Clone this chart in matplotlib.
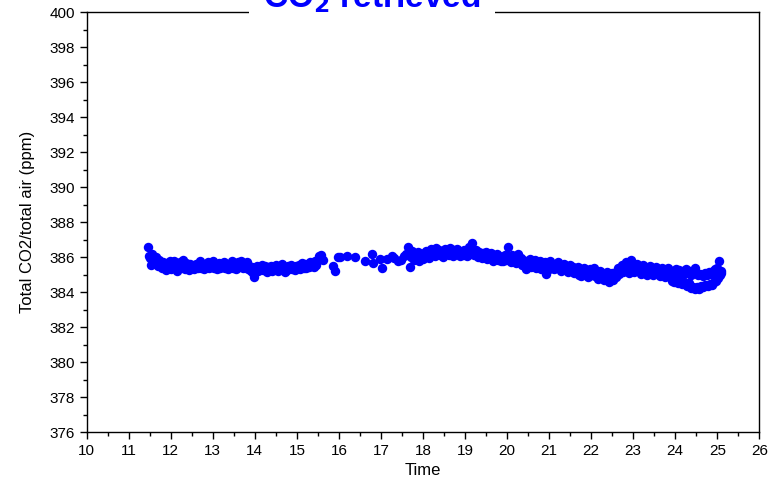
import matplotlib
matplotlib.use("Agg")
import matplotlib.pyplot as plt
from matplotlib.ticker import MultipleLocator

plt.rcParams["font.family"] = ["Liberation Sans", "DejaVu Sans"]

# time (hours) and retrieved CO2 (ppm)
time = [
    11.45, 11.48, 11.50, 11.53, 11.56, 11.58, 11.61, 11.64, 11.67, 11.70,
    11.73, 11.76, 11.79, 11.82, 11.85, 11.88, 11.91, 11.94, 11.97, 12.00,
    12.04, 12.07, 12.10, 12.13, 12.16, 12.19, 12.22, 12.25, 12.28, 12.31,
    12.34, 12.37, 12.40, 12.43, 12.46, 12.49, 12.52, 12.55, 12.58, 12.61,
    12.64, 12.67, 12.70, 12.73, 12.76, 12.79, 12.82, 12.85, 12.88, 12.91,
    12.94, 12.97, 13.00, 13.03, 13.06, 13.09, 13.12, 13.15, 13.18, 13.21,
    13.24, 13.27, 13.30, 13.33, 13.36, 13.39, 13.42, 13.45, 13.48, 13.51,
    13.54, 13.57, 13.60, 13.63, 13.66, 13.69, 13.72, 13.75, 13.78, 13.81,
    13.84, 13.87, 13.90, 13.93, 13.96, 13.99, 14.02, 14.05, 14.08, 14.11,
    14.14, 14.17, 14.20, 14.23, 14.26, 14.29, 14.32, 14.35, 14.38, 14.41,
    14.44, 14.47, 14.50, 14.53, 14.56, 14.59, 14.62, 14.65, 14.68, 14.71,
    14.74, 14.77, 14.80, 14.83, 14.86, 14.89, 14.92, 14.95, 14.98, 15.01,
    15.04, 15.07, 15.10, 15.13, 15.16, 15.19, 15.22, 15.25, 15.28, 15.31,
    15.34, 15.37, 15.40, 15.43, 15.46, 15.49, 15.52, 15.55, 15.58, 15.61,
    15.86, 15.90, 15.98, 16.03, 16.20, 16.38, 16.62, 16.78, 16.81, 16.98,
    17.02, 17.15, 17.26, 17.32, 17.41, 17.47, 17.55, 17.60, 17.65, 17.68,
    17.72, 17.75, 17.78, 17.81, 17.84, 17.87, 17.90, 17.93, 17.96, 17.99,
    18.02, 18.05, 18.08, 18.11, 18.14, 18.17, 18.20, 18.23, 18.26, 18.29,
    18.32, 18.35, 18.38, 18.41, 18.44, 18.47, 18.50, 18.53, 18.56, 18.59,
    18.62, 18.65, 18.68, 18.71, 18.74, 18.77, 18.80, 18.83, 18.86, 18.89,
    18.92, 18.95, 18.98, 19.01, 19.04, 19.07, 19.10, 19.13, 19.16, 19.19,
    19.22, 19.25, 19.28, 19.31, 19.34, 19.37, 19.40, 19.43, 19.46, 19.49,
    19.52, 19.55, 19.58, 19.61, 19.64, 19.67, 19.70, 19.73, 19.76, 19.79,
    19.82, 19.85, 19.88, 19.91, 19.94, 19.97, 20.00, 20.03, 20.06, 20.09,
    20.12, 20.15, 20.18, 20.21, 20.24, 20.27, 20.30, 20.33, 20.36, 20.39,
    20.42, 20.45, 20.48, 20.51, 20.54, 20.57, 20.60, 20.63, 20.66, 20.69,
    20.72, 20.75, 20.78, 20.81, 20.84, 20.87, 20.90, 20.93, 20.96, 20.99,
    21.02, 21.05, 21.08, 21.11, 21.14, 21.17, 21.20, 21.23, 21.26, 21.29,
    21.32, 21.35, 21.38, 21.41, 21.44, 21.47, 21.50, 21.53, 21.56, 21.59,
    21.62, 21.65, 21.68, 21.71, 21.74, 21.77, 21.80, 21.83, 21.86, 21.89,
    21.92, 21.95, 21.98, 22.01, 22.04, 22.07, 22.10, 22.13, 22.16, 22.19,
    22.22, 22.25, 22.28, 22.31, 22.34, 22.37, 22.40, 22.43, 22.46, 22.49,
    22.52, 22.55, 22.58, 22.61, 22.64, 22.67, 22.70, 22.73, 22.76, 22.79,
    22.82, 22.85, 22.88, 22.91, 22.94, 22.97, 23.00, 23.03, 23.06, 23.09,
    23.12, 23.15, 23.18, 23.21, 23.24, 23.27, 23.30, 23.33, 23.36, 23.39,
    23.42, 23.45, 23.48, 23.51, 23.54, 23.57, 23.60, 23.63, 23.66, 23.69,
    23.72, 23.75, 23.78, 23.81, 23.84, 23.87, 23.90, 23.93, 23.96, 23.99,
    24.02, 24.06, 24.10, 24.14, 24.18, 24.22, 24.26, 24.30, 24.34, 24.38,
    24.42, 24.46, 24.50, 24.55, 24.60, 24.65, 24.70, 24.75, 24.80, 24.85,
    24.90, 24.95, 25.00, 25.05, 25.08,
    23.92, 23.97, 24.02, 24.07, 24.12, 24.17, 24.22, 24.27, 24.32, 24.37,
    24.42, 24.47, 24.52, 24.57, 24.62, 24.67, 24.72, 24.77, 24.82, 24.87,
    24.92, 24.97, 25.02, 25.06, 25.09,
]

co2 = [
    386.55, 386.05, 385.95, 385.55, 386.15, 385.85, 385.65, 386.00, 385.75, 385.50,
    385.85, 385.60, 385.35, 385.70, 385.50, 385.25, 385.65, 385.45, 385.80, 385.30,
    385.55, 385.75, 385.35, 385.60, 385.20, 385.50, 385.70, 385.40, 385.85, 385.55,
    385.30, 385.65, 385.45, 385.25, 385.60, 385.40, 385.50, 385.30, 385.45, 385.60,
    385.35, 385.50, 385.75, 385.40, 385.60, 385.30, 385.55, 385.45, 385.70, 385.35,
    385.60, 385.45, 385.75, 385.40, 385.60, 385.30, 385.50, 385.65, 385.35, 385.55,
    385.45, 385.70, 385.40, 385.55, 385.30, 385.60, 385.50, 385.75, 385.40, 385.60,
    385.30, 385.50, 385.70, 385.45, 385.80, 385.55, 385.35, 385.60, 385.45, 385.70,
    385.30, 385.50, 385.20, 385.45, 385.10, 384.85, 385.30, 385.50, 385.20, 385.45,
    385.30, 385.55, 385.25, 385.50, 385.35, 385.15, 385.45, 385.30, 385.50, 385.20,
    385.40, 385.30, 385.55, 385.35, 385.20, 385.50, 385.40, 385.60, 385.30, 385.15,
    385.45, 385.25, 385.50, 385.35, 385.55, 385.30, 385.45, 385.25, 385.50, 385.35,
    385.55, 385.30, 385.50, 385.65, 385.40, 385.60, 385.35, 385.55, 385.45, 385.70,
    385.50, 385.60, 385.45, 385.75, 385.55, 385.80, 386.05, 385.90, 386.10, 385.85,
    385.50, 385.20, 386.00, 386.00, 386.05, 386.00, 385.75, 386.20, 385.65, 385.90,
    385.35, 385.90, 386.05, 385.95, 385.75, 385.85, 386.05, 386.20, 386.60, 385.45,
    386.00, 386.35, 385.85, 386.15, 385.95, 386.30, 385.75, 386.05, 386.20, 385.90,
    386.25, 386.00, 386.35, 386.10, 385.95, 386.20, 386.45, 386.15, 386.30, 386.05,
    386.50, 386.20, 386.40, 386.10, 386.30, 386.00, 386.25, 386.45, 386.15, 386.35,
    386.10, 386.50, 386.25, 386.05, 386.40, 386.20, 386.45, 386.15, 386.35, 386.05,
    386.30, 386.10, 386.40, 386.20, 386.05, 386.30, 386.55, 386.15, 386.80, 386.35,
    386.10, 386.40, 386.20, 386.00, 386.30, 386.15, 385.95, 386.25, 386.05, 386.30,
    385.90, 386.15, 385.95, 386.25, 386.00, 385.80, 386.10, 385.90, 386.20, 385.85,
    386.05, 385.75, 386.00, 385.80, 386.10, 385.85, 386.05, 386.55, 385.90, 385.70,
    386.10, 385.85, 386.00, 385.65, 385.90, 386.20, 385.70, 385.95, 385.55, 385.85,
    385.65, 385.30, 385.80, 385.55, 385.90, 385.45, 385.70, 385.50, 385.85, 385.40,
    385.65, 385.50, 385.75, 385.30, 385.60, 385.40, 385.70, 385.05, 385.50, 385.30,
    385.75, 385.45, 385.60, 385.30, 385.55, 385.40, 385.70, 385.35, 385.50, 385.20,
    385.45, 385.60, 385.30, 385.50, 385.15, 385.40, 385.55, 385.25, 385.45, 385.10,
    385.35, 385.20, 385.45, 385.00, 385.30, 384.90, 385.20, 385.35, 385.05, 385.25,
    384.85, 385.10, 385.30, 384.95, 385.15, 385.35, 384.90, 385.10, 384.75, 385.00,
    385.20, 384.85, 385.05, 384.70, 384.95, 385.15, 384.80, 384.55, 384.95, 385.10,
    384.70, 385.00, 384.85, 385.20, 385.40, 385.05, 385.30, 385.55, 385.15, 385.35,
    385.70, 385.25, 385.45, 385.10, 385.85, 385.30, 385.50, 385.15, 385.40, 385.60,
    385.25, 385.45, 385.05, 385.35, 385.55, 385.20, 385.40, 385.00, 385.30, 385.50,
    385.15, 385.35, 384.95, 385.25, 385.45, 385.10, 385.30, 384.90, 385.20, 385.40,
    385.05, 384.85, 385.25, 385.00, 385.35, 385.10, 384.80, 385.20, 384.75, 385.05,
    385.30, 385.10, 385.25, 385.00, 385.20, 385.05, 385.30, 385.10, 385.20, 385.00,
    385.15, 385.35, 385.10, 384.95, 385.05, 384.90, 385.10, 385.00, 385.15, 385.05,
    385.20, 385.30, 385.40, 385.75, 385.20,
    384.65, 384.55, 384.70, 384.50, 384.60, 384.45, 384.55, 384.35, 384.50, 384.25,
    384.30, 384.15, 384.30, 384.20, 384.35, 384.30, 384.40, 384.35, 384.45, 384.40,
    384.55, 384.65, 384.80, 385.00, 385.10,
]

fig = plt.figure(figsize=(7.74, 4.82), dpi=100)
ax = fig.add_axes([0.112, 0.1037, 0.869, 0.8713])

ax.plot(time, co2, "o", color="#0000ff", markersize=6.8, markeredgewidth=0)

ax.set_xlim(10, 26)
ax.set_ylim(376, 400)
ax.xaxis.set_major_locator(MultipleLocator(1))
ax.xaxis.set_minor_locator(MultipleLocator(0.5))
ax.yaxis.set_major_locator(MultipleLocator(2))
ax.yaxis.set_minor_locator(MultipleLocator(1))
ax.tick_params(which="both", direction="out", top=False, right=False,
               width=1.0, labelsize=11)
ax.tick_params(which="major", length=5)
ax.tick_params(which="minor", length=3)
for s in ax.spines.values():
    s.set_linewidth(1.0)

ax.set_xlabel("Time", fontsize=12, labelpad=4)
ax.set_ylabel("Total CO2/total air (ppm)", fontsize=12, labelpad=10)

fig.text(372 / 774, 1 - 7 / 482, "CO$_\\mathbf{2}$ retrieved", ha="center",
         va="baseline", fontsize=24, fontweight="bold", color="#0000ff",
         bbox=dict(facecolor="white", edgecolor="none", pad=10))

fig.savefig("out.png", dpi=100)
